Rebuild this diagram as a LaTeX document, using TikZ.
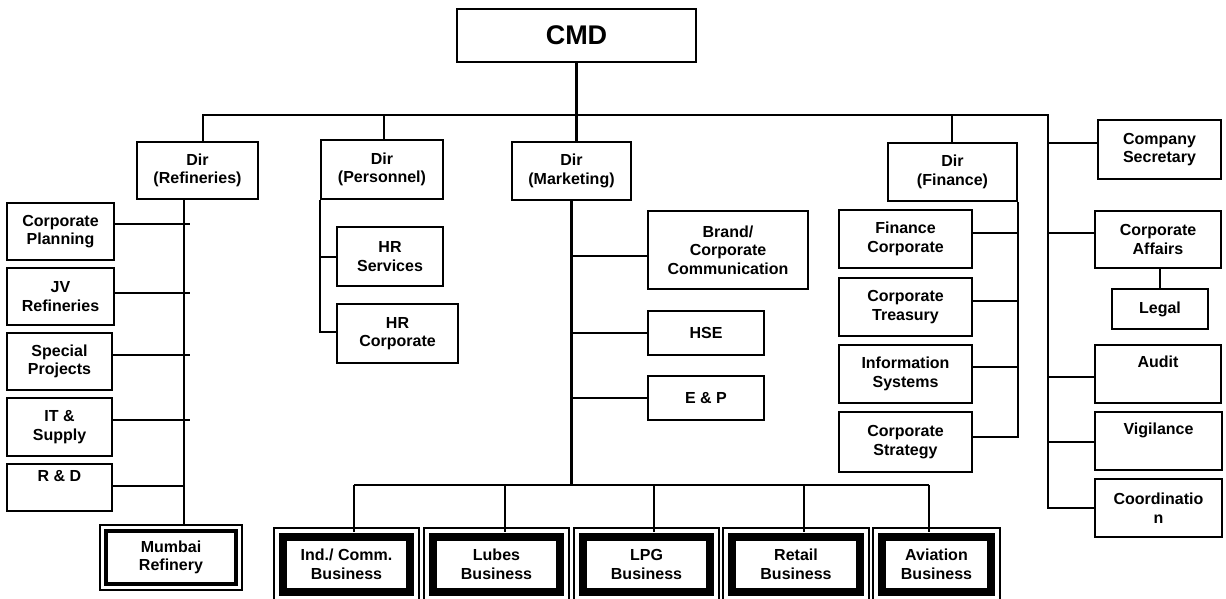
\documentclass[tikz,border=0pt]{standalone}
\usepackage{fontspec}
\setmainfont{Liberation Sans}
\usetikzlibrary{calc}
\begin{document}
\begin{tikzpicture}[x=1pt,y=-1pt,
  ln/.style={line width=2.2pt},
  sz/.style 2 args={minimum width=#1pt, minimum height=#2pt},
  txt/.style={font=\bfseries\fontsize{16}{18.5}\selectfont, align=center, inner sep=0pt},
  box/.style={txt, draw, line width=2.2pt},
  refbox/.style={txt, draw, line width=1.4pt,
    path picture={\draw[line width=3.5pt]
      ([xshift=6pt,yshift=-6pt]path picture bounding box.north west) rectangle
      ([xshift=-6pt,yshift=6pt]path picture bounding box.south east);}},
  bizbox/.style={txt, draw, line width=1.4pt,
    path picture={\draw[line width=7.5pt]
      ([xshift=9pt,yshift=-9pt]path picture bounding box.north west) rectangle
      ([xshift=-9pt,yshift=9pt]path picture bounding box.south east);}}]

\fill[white] (0,0) rectangle (1226,598);
\useasboundingbox (0,0) rectangle (1226,598);

% top of the chart
\node[box, sz={239}{53}, font=\bfseries\fontsize{27}{30}\selectfont] (cmd) at (576.5,35.5) {CMD};

% directors
\node[box, sz={121}{57}] (dref) at (197.5,170.5) {Dir\\(Refineries)};
\node[box, sz={122}{59}] (dper) at (382,169.5) {Dir\\(Personnel)};
\node[box, sz={119}{58}] (dmkt) at (571.5,171) {Dir\\(Marketing)};
\node[box, sz={129}{58}] (dfin) at (952.5,172) {Dir\\(Finance)};
\node[box, sz={123}{59}] (csec) at (1159.5,149.5) {Company\\Secretary};

% refineries
\node[box, sz={107}{57}] (cplan) at (60.5,231.5) {Corporate\\Planning};
\node[box, sz={107}{57}] (jv) at (60.5,296.5) {JV\\Refineries};
\node[box, sz={105}{57}] (spec) at (59.5,361.5) {Special\\Projects};
\node[box, sz={105}{58}] (itsup) at (59.5,427) {IT \&\\Supply};
\node[box, sz={105}{47}] (rd) at (59.5,487.5) {R \& D\\\strut};
\node[refbox, sz={142}{65}] (mum) at (171,557.5) {Mumbai\\Refinery};

% personnel
\node[box, sz={106}{59}] (hrs) at (390,256.5) {HR\\Services};
\node[box, sz={121}{59}] (hrc) at (397.5,333.5) {HR\\Corporate};

% marketing
\node[box, sz={160}{78}] (brand) at (728,250) {Brand/\\Corporate\\Communication};
\node[box, sz={116}{44}] (hse) at (706,333) {HSE};
\node[box, sz={116}{44}] (ep) at (706,398) {E \& P};

% finance
\node[box, sz={133}{58}] (fcorp) at (905.5,239) {Finance\\Corporate};
\node[box, sz={133}{58}] (ctre) at (905.5,307) {Corporate\\Treasury};
\node[box, sz={133}{58}] (isys) at (905.5,374) {Information\\Systems};
\node[box, sz={133}{60}] (cstr) at (905.5,442) {Corporate\\Strategy};

% functions reporting to CMD
\node[box, sz={126}{57}] (caff) at (1158,239.5) {Corporate\\Affairs};
\node[box, sz={96}{40}] (legal) at (1160,309) {Legal};
\node[box, sz={126}{58}] (audit) at (1158,374) {Audit\\\strut};
\node[box, sz={127}{58}] (vig) at (1158.5,441) {Vigilance\\\strut};
\node[box, sz={127}{58}] (coord) at (1158.5,508) {Coordinatio\\n};

% business units
\node[bizbox, sz={145}{73}] (ind) at (346.5,564.5) {Ind./ Comm.\\Business};
\node[bizbox, sz={145}{73}] (lub) at (496.5,564.5) {Lubes\\Business};
\node[bizbox, sz={145}{73}] (lpg) at (646.5,564.5) {LPG\\Business};
\node[bizbox, sz={146}{73}] (ret) at (796,564.5) {Retail\\Business};
\node[bizbox, sz={127}{73}] (avi) at (936.5,564.5) {Aviation\\Business};

% main bus
\coordinate (busL) at (203,115);
\coordinate (busR) at (1048,115);
\draw[ln] (dref.north -| busL) -- (busL) -- (busR) -- (coord.west -| busR) -- (coord.west);
\draw[ln] (cmd.south) -- (cmd.south |- dmkt.north);
\draw[ln] (384,115) -- (dper.north -| 384,115);
\draw[ln] (952,115) -- (dfin.north -| 952,115);

% right column branches
\foreach \n/\y in {csec/143, caff/233, audit/377, vig/442}
  \draw[ln] (1048,\y) -- (\n.west |- 0,\y);
\draw[ln] (caff.south -| legal.north) -- (legal.north);

% refineries trunk
\draw[ln] (dref.south -| 184,0) -- (mum.north -| 184,0);
\foreach \n/\y in {cplan/224, jv/293, spec/355, itsup/420}
  \draw[ln] (\n.east |- 0,\y) -- (190,\y);
\draw[ln] (rd.east |- 0,486) -- (184,486);

% personnel trunk
\draw[ln] (dper.south west) -- (dper.south west |- 0,332) -- (hrc.west |- 0,332);
\draw[ln] (dper.south west |- 0,257) -- (hrs.west |- 0,257);

% marketing trunk
\draw[ln] (dmkt.south) -- (dmkt.south |- 0,485);
\foreach \n/\y in {brand/256, hse/333, ep/398}
  \draw[ln] (dmkt.south |- 0,\y) -- (\n.west |- 0,\y);
\draw[ln] (354,485) -- (929,485);
\foreach \n/\x in {ind/354, lub/505, lpg/654, ret/804, avi/929}
  \draw[ln] (\x,485) -- ($(\n.north -| \x,0)+(0,5)$);

% finance trunk
\draw[ln] (dfin.south east) -- (dfin.south east |- 0,437) -- (cstr.east |- 0,437);
\foreach \n/\y in {fcorp/233, ctre/301, isys/367}
  \draw[ln] (\n.east |- 0,\y) -- (dfin.south east |- 0,\y);

\end{tikzpicture}
\end{document}
